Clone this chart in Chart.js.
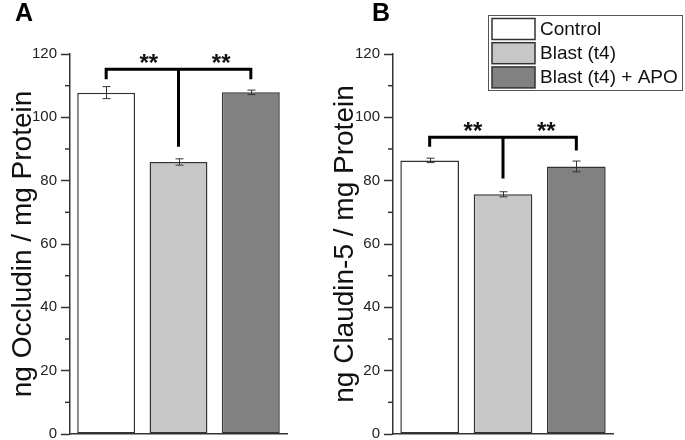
<!DOCTYPE html>
<html><head><meta charset="utf-8">
<script src="https://cdn.jsdelivr.net/npm/chart.js@4"></script>
<style>
html,body{margin:0;padding:0;background:#fff;}
#wrap{position:relative;width:685px;height:440px;overflow:hidden;background:#fff;}
canvas{position:absolute;top:0;}
#cA{left:0;} #cB{left:320px;}
</style></head><body>
<div id="wrap"><canvas id="cA" width="320" height="440"></canvas><canvas id="cB" width="365" height="440"></canvas></div>
<script>
// ---- data ----
const categories = ['Control', 'Blast (t4)', 'Blast (t4) + APO'];
const occludin = [107.8, 85.9, 107.9];
const occludinErr = [1.9, 1.0, 0.7];
const claudin = [86.4, 75.7, 84.5];
const claudinErr = [0.7, 0.8, 1.7];
const yMin = 0, yMax = 120, yStep = 20;
const sigLabel = '**';
// significance brackets (values in axis units): [left end, bar level, right end, stem end]
const bracketA = [112, 115.2, 112, 90.7];
const bracketB = [90.7, 93.7, 89.5, 80.7];
const starLevelA = 119;
const starLevelB = 97.6;
const starPosA = [0.59, 1.59];
const starPosB = [0.59, 1.59];
const panelLabels = ['A', 'B'];
const titles = ['ng Occludin / mg Protein', 'ng Claudin-5 / mg Protein'];

const FONT = "'Liberation Sans', Arial, Helvetica, sans-serif";
const fills = ['#ffffff', '#c7c7c7', '#818181'];
const AX = '#333333';

function makePlugins(errs, bracket, starLevel, starPos, letter, letterX, withLegend) {
  return [{
    id: 'extras',
    afterDatasetsDraw(chart) {
      const ctx = chart.ctx;
      const x = chart.scales.x, y = chart.scales.y;
      const meta = chart.getDatasetMeta(0);
      ctx.save();
      // error bars
      ctx.strokeStyle = '#333'; ctx.lineWidth = 1;
      meta.data.forEach((bar, i) => {
        const v = chart.data.datasets[0].data[i];
        const y1 = y.getPixelForValue(v + errs[i]);
        const y2 = y.getPixelForValue(v - errs[i]);
        const cx = Math.round(bar.x) + 0.5;
        ctx.beginPath();
        ctx.moveTo(cx, y1); ctx.lineTo(cx, y2);
        ctx.moveTo(cx - 4, y1); ctx.lineTo(cx + 4, y1);
        ctx.moveTo(cx - 4, y2); ctx.lineTo(cx + 4, y2);
        ctx.stroke();
      });
      // minor ticks
      const ticks = y.ticks;
      ctx.strokeStyle = AX; ctx.lineWidth = 1.5;
      for (let i = 0; i < ticks.length - 1; i++) {
        const v = (ticks[i].value + ticks[i + 1].value) / 2;
        const py = y.getPixelForValue(v);
        ctx.beginPath(); ctx.moveTo(y.right - 5, py); ctx.lineTo(y.right, py); ctx.stroke();
      }
      // bracket
      const xl = x.getPixelForValue(0), xm = x.getPixelForValue(1), xr = x.getPixelForValue(2);
      const yTop = y.getPixelForValue(bracket[1]);
      ctx.strokeStyle = '#000'; ctx.lineWidth = 3; ctx.lineJoin = 'miter'; ctx.lineCap = 'butt';
      ctx.beginPath();
      ctx.moveTo(xl, y.getPixelForValue(bracket[0]));
      ctx.lineTo(xl, yTop); ctx.lineTo(xr, yTop);
      ctx.lineTo(xr, y.getPixelForValue(bracket[2]));
      ctx.moveTo(xm, yTop); ctx.lineTo(xm, y.getPixelForValue(bracket[3]));
      ctx.stroke();
      // stars
      ctx.fillStyle = '#111';
      ctx.font = 'bold 24px ' + FONT;
      ctx.textAlign = 'center'; ctx.textBaseline = 'alphabetic';
      starPos.forEach(p => {
        ctx.fillText(sigLabel, x.getPixelForValue(p), y.getPixelForValue(starLevel) + 14);
      });
      ctx.restore();
    },
    afterDraw(chart) {
      const ctx = chart.ctx;
      ctx.save();
      ctx.fillStyle = '#000';
      ctx.font = 'bold 25px ' + FONT;
      ctx.textAlign = 'left'; ctx.textBaseline = 'alphabetic';
      ctx.fillText(letter, letterX, 21);
      if (withLegend) {
        const bx = 168.5, by = 15.5, bw = 194, bh = 75;
        ctx.strokeStyle = '#555'; ctx.lineWidth = 1;
        ctx.strokeRect(bx, by, bw, bh);
        ctx.font = '19px ' + FONT;
        ctx.textBaseline = 'middle';
        categories.forEach((c, i) => {
          const ry = 18.5 + i * 24.2;
          ctx.fillStyle = fills[i];
          ctx.fillRect(172, ry, 43, 21);
          ctx.strokeStyle = '#333'; ctx.lineWidth = 1.5;
          ctx.strokeRect(172, ry, 43, 21);
          ctx.fillStyle = '#111';
          ctx.fillText(c, 220, ry + 11);
        });
      }
      ctx.restore();
    }
  }];
}

function makeChart(id, values, title, yWidth, padRight, titlePad, plugins) {
  return new Chart(document.getElementById(id), {
    type: 'bar',
    data: {
      labels: categories,
      datasets: [{
        data: values,
        backgroundColor: fills,
        borderColor: '#333',
        borderWidth: 1.5,
        borderSkipped: false,
        barPercentage: 0.8,
        categoryPercentage: 1.0
      }]
    },
    options: {
      responsive: false,
      animation: false,
      events: [],
      devicePixelRatio: 1,
      layout: { padding: { left: 0, right: padRight, top: 54, bottom: 6 } },
      plugins: { legend: { display: false }, tooltip: { enabled: false }, title: { display: false } },
      scales: {
        x: {
          type: 'category',
          ticks: { display: false },
          grid: { display: false },
          border: { display: true, color: AX, width: 1.5 },
          afterFit(s) { s.height = 0; s.paddingLeft = 0; s.paddingRight = 0; }
        },
        y: {
          min: yMin, max: yMax,
          ticks: { stepSize: yStep, color: '#222', font: { family: FONT, size: 15 }, padding: 4 },
          grid: { display: true, drawOnChartArea: false, drawTicks: true, tickLength: 9, tickWidth: 1.5, tickColor: AX },
          border: { display: true, color: AX, width: 1.5 },
          title: { display: true, text: title, color: '#111', font: { family: FONT, size: 28 }, padding: { top: titlePad, bottom: 0 } },
          afterFit(s) { s.width = yWidth; s.paddingTop = 0; s.paddingBottom = 0; }
        }
      }
    },
    plugins: plugins
  });
}

makeChart('cA', occludin, titles[0], 70, 33, 6,
  makePlugins(occludinErr, bracketA, starLevelA, starPosA, panelLabels[0], 15, false));
makeChart('cB', claudin, titles[1], 73, 72, 8,
  makePlugins(claudinErr, bracketB, starLevelB, starPosB, panelLabels[1], 52, true));
</script>
</body></html>
